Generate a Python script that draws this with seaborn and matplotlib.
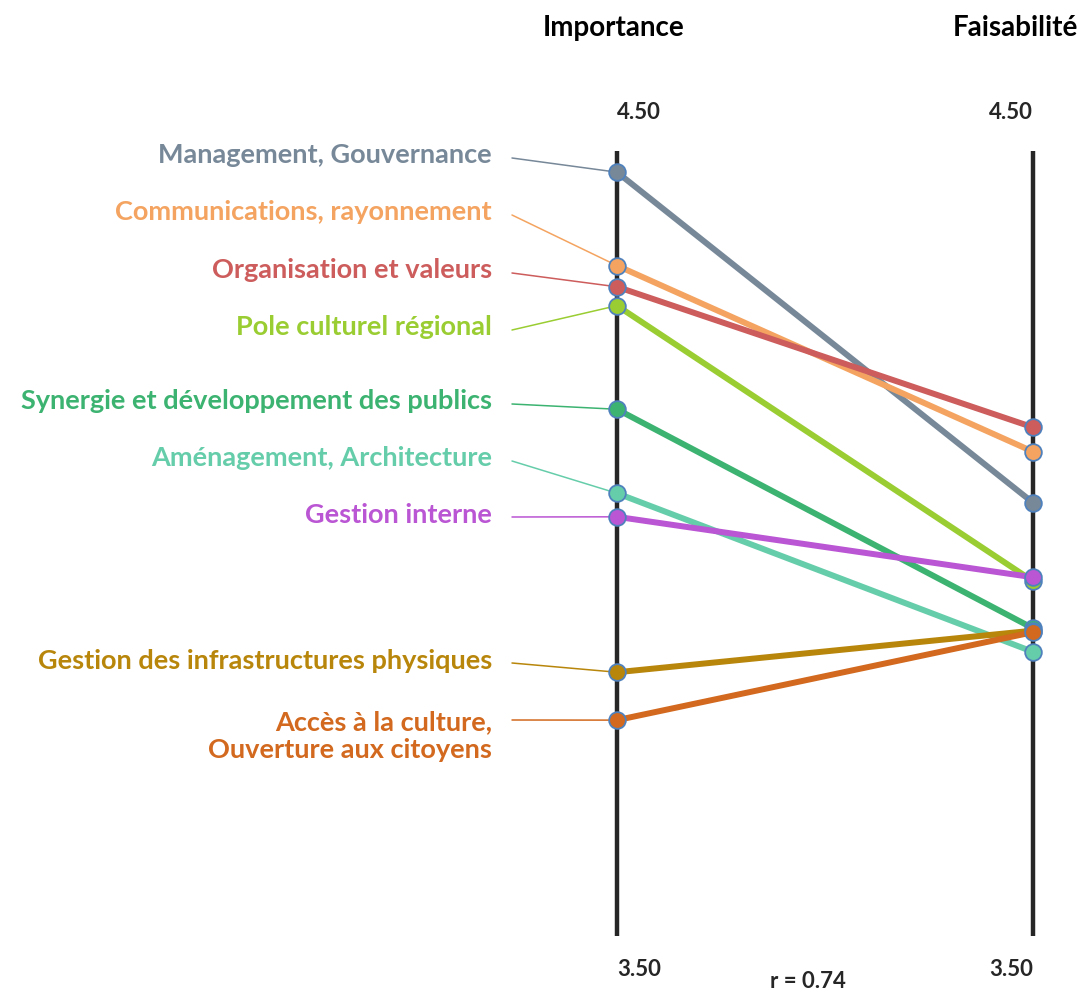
import seaborn as sns
import matplotlib.pyplot as plt
import pandas as pd

# ----- data -----
dimensions = [
    "Management, Gouvernance",
    "Communications, rayonnement",
    "Organisation et valeurs",
    "Pole culturel régional",
    "Synergie et développement des publics",
    "Aménagement, Architecture",
    "Gestion interne",
    "Gestion des infrastructures physiques",
    "Accès à la culture,\nOuverture aux citoyens",
]
importance = [4.473, 4.354, 4.327, 4.303, 4.171, 4.064, 4.034, 3.836, 3.775]
faisabilite = [4.052, 4.117, 4.148, 3.952, 3.892, 3.862, 3.957, 3.889, 3.887]
colors = ["#778899", "#F4A460", "#CD5C5C", "#9ACD32", "#3CB371",
          "#66CDAA", "#BA55D3", "#B8860B", "#D2691E"]
axis_names = ["Importance", "Faisabilité"]
axis_min, axis_max = 3.50, 4.50
r_text = "r = 0.74"

# label anchor heights (pixels from top of the figure)
label_px = [155, 212, 270, 327, 401, 458, 515, 661, 736]
conn_px = [158, 215, 273, 330, 404, 461, 517, 663, 720]

# ----- layout helpers (pixel -> data) -----
W, H = 1082, 993
top_px, bot_px = 151, 936
left_px, right_px = 617, 1033
unit_y = (bot_px - top_px) / (axis_max - axis_min)
unit_x = right_px - left_px


def py(p):
    return axis_max - (p - top_px) / unit_y


def px(p):
    return (p - left_px) / unit_x


rows = []
for d, a, b in zip(dimensions, importance, faisabilite):
    rows.append({"dim": d, "pos": 0, "score": a})
    rows.append({"dim": d, "pos": 1, "score": b})
df = pd.DataFrame(rows)

sns.set_style("white")
plt.rcParams["font.family"] = ["Lato", "DejaVu Sans"]

fig = plt.figure(figsize=(W / 100, H / 100), dpi=100)
ax = fig.add_axes([0, 0, 1, 1])

# vertical axes
for x in [0, 1]:
    ax.plot([x, x], [axis_min, axis_max], color="#262626", lw=3.2, zorder=1,
            solid_capstyle="butt")

# connectors from labels to importance points
for i, d in enumerate(dimensions):
    ax.plot([px(512), 0], [py(conn_px[i]), importance[i]],
            color=colors[i], lw=1.1, zorder=2)

sns.lineplot(data=df, x="pos", y="score", hue="dim", hue_order=dimensions,
             palette=colors, linewidth=4.3, marker="o", markersize=12,
             markeredgecolor="#4F81BD", markeredgewidth=1.3,
             legend=False, sort=False, ax=ax, zorder=3)
ax.set_xlim(px(0), px(W))
ax.set_ylim(py(H), py(0))
ax.set_axis_off()

# category labels
for i, d in enumerate(dimensions):
    ax.text(px(492), py(label_px[i]), d, ha="right", va="center",
            multialignment="right", color=colors[i], fontsize=19.5,
            fontweight="bold", linespacing=1.2)

# axis titles and limits
ax.text(px(614), py(28), axis_names[0], ha="center", va="center",
        fontsize=20, fontweight="bold", color="black")
ax.text(px(1015), py(28), axis_names[1], ha="center", va="center",
        fontsize=20, fontweight="bold", color="black")
ax.text(0, py(113), f"{axis_max:.2f}", ha="left", va="center",
        fontsize=16, fontweight="bold")
ax.text(1, py(113), f"{axis_max:.2f}", ha="right", va="center",
        fontsize=16, fontweight="bold")
ax.text(0, py(970), f"{axis_min:.2f}", ha="left", va="center",
        fontsize=16, fontweight="bold")
ax.text(1, py(970), f"{axis_min:.2f}", ha="right", va="center",
        fontsize=16, fontweight="bold")
ax.text(px(808), py(982), r_text, ha="center", va="center",
        fontsize=16, fontweight="bold")

fig.savefig("out.png", dpi=100)
plt.close(fig)
